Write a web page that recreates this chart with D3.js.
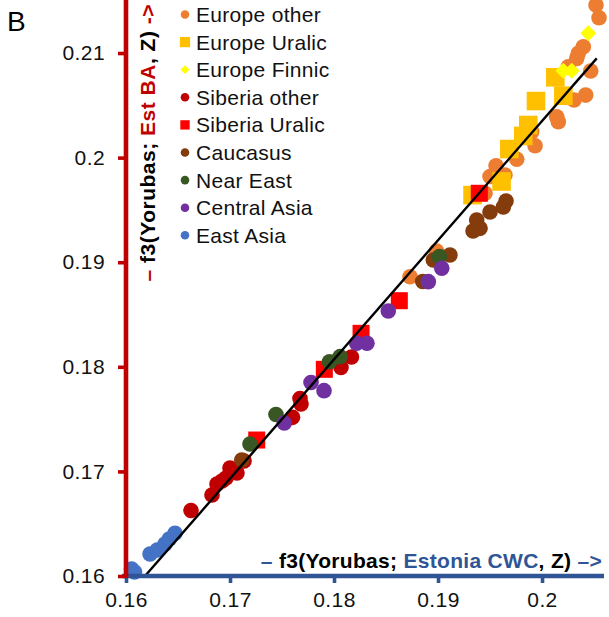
<html>
<head>
<script src="https://cdn.jsdelivr.net/npm/d3@7"></script>
<style>
  body { margin: 0; background: #fff; }
  svg { display: block; font-family: Arial, "Liberation Sans", sans-serif; }
</style>
</head>
<body>
<div id="chart-container"></div>
<script>
// series, in the order they are drawn (and listed in the legend)
const seriesNames = ["Europe other", "Europe Uralic", "Europe Finnic", "Siberia other", "Siberia Uralic",
                     "Caucasus", "Near East", "Central Asia", "East Asia"]

// x = f3(Yorubas; Estonia CWC, Z), y = f3(Yorubas; Est BA, Z)
const europeOtherX = [0.18731, 0.18986, 0.19452, 0.19500, 0.19644, 0.19558, 0.19757, 0.19933, 0.19901, 0.20141,
                      0.20157, 0.20308, 0.20420, 0.20253, 0.20468, 0.20334, 0.20349, 0.20397, 0.20519, 0.20548]
const europeOtherY = [0.18861, 0.19107, 0.19659, 0.19819, 0.19834, 0.19923, 0.19984, 0.20114, 0.20248, 0.20391,
                      0.20343, 0.20551, 0.20598, 0.20869, 0.20828, 0.20949, 0.20997, 0.21060, 0.21459, 0.21337]

const europeUralicX = [0.19332, 0.19611, 0.19686, 0.19820, 0.19868, 0.19942, 0.20128, 0.20205]
const europeUralicY = [0.19642, 0.19772, 0.20082, 0.20207, 0.20312, 0.20541, 0.20768, 0.20592]

const europeFinnicX = [0.20445, 0.20205, 0.20286]
const europeFinnicY = [0.21188, 0.20831, 0.20831]

const siberiaOtherX = [0.16625, 0.16827, 0.16875, 0.16923, 0.16962, 0.17000, 0.17067, 0.17135,
                       0.17601, 0.17673, 0.17683, 0.18067, 0.18168]
const siberiaOtherY = [0.16626, 0.16774, 0.16880, 0.16908, 0.16937, 0.17033, 0.16985, 0.17099,
                       0.17517, 0.17697, 0.17644, 0.17993, 0.18094]

const siberiaUralicX = [0.17257, 0.17907, 0.18260, 0.18628, 0.19397]
const siberiaUralicY = [0.17300, 0.17976, 0.18320, 0.18632, 0.19659]

const caucasusX = [0.17113, 0.18853, 0.18955, 0.19115, 0.19337, 0.19372, 0.19404, 0.19500, 0.19654, 0.19628]
const caucasusY = [0.17109, 0.18816, 0.19021, 0.19069, 0.19298, 0.19403, 0.19324, 0.19480, 0.19585, 0.19528]

const nearEastX = [0.17192, 0.17442, 0.17957, 0.18058, 0.19013]
const nearEastY = [0.17262, 0.17544, 0.18049, 0.18097, 0.19053]

const centralAsiaX = [0.17522, 0.17779, 0.17904, 0.18218, 0.18317, 0.18522, 0.18907, 0.19036]
const centralAsiaY = [0.17463, 0.17850, 0.17772, 0.18225, 0.18225, 0.18533, 0.18814, 0.18942]

const eastAsiaX = [0.16053, 0.16082, 0.16231, 0.16301, 0.16375, 0.16416, 0.16471]
const eastAsiaY = [0.16067, 0.16038, 0.16210, 0.16249, 0.16306, 0.16354, 0.16408]

// fitted line end points
const fitX = [0.16183, 0.20526]
const fitY = [0.16, 0.20949]

const xTicks = [0.16, 0.17, 0.18, 0.19, 0.2]
const yTicks = [0.16, 0.17, 0.18, 0.19, 0.2, 0.21]

// marker look per series
const seriesStyle = {
	"Europe other":   {color: "#ED7D31", shape: "circle"},
	"Europe Uralic":  {color: "#FFC000", shape: "bigsquare"},
	"Europe Finnic":  {color: "#FFFF00", shape: "diamond"},
	"Siberia other":  {color: "#C00000", shape: "circle"},
	"Siberia Uralic": {color: "#FF0000", shape: "square"},
	"Caucasus":       {color: "#843C0C", shape: "circle"},
	"Near East":      {color: "#385723", shape: "circle"},
	"Central Asia":   {color: "#7030A0", shape: "circle"},
	"East Asia":      {color: "#4472C4", shape: "circle"}
}

const seriesX = [europeOtherX, europeUralicX, europeFinnicX, siberiaOtherX, siberiaUralicX,
                 caucasusX, nearEastX, centralAsiaX, eastAsiaX]
const seriesY = [europeOtherY, europeUralicY, europeFinnicY, siberiaOtherY, siberiaUralicY,
                 caucasusY, nearEastY, centralAsiaY, eastAsiaY]

const width = 609
const height = 617
const redAxis = "#C00000"
const blueAxis = "#2F5597"

const xscale = d3.scaleLinear().domain([0.16, 0.20596]).range([126, 604])
const yscale = d3.scaleLinear().domain([0.16, 0.21507]).range([576, 0])

const svg = d3.select("#chart-container")
	.append("svg")
	.attr("width", width)
	.attr("height", height)

// panel letter
svg.append("text")
	.attr("x", 7)
	.attr("y", 31)
	.attr("font-size", 28)
	.attr("fill", "#000")
	.text("B")

// marker drawing
function marker(sel, shape, scale) {
	if (shape == "circle") {
		sel.append("circle").attr("r", 7.8 * scale)
	} else if (shape == "square") {
		sel.append("rect").attr("x", -8.5 * scale).attr("y", -8.5 * scale)
			.attr("width", 17 * scale).attr("height", 17 * scale)
	} else if (shape == "bigsquare") {
		sel.append("rect").attr("x", -9.3 * scale).attr("y", -9.3 * scale)
			.attr("width", 18.6 * scale).attr("height", 18.6 * scale)
	} else if (shape == "diamond") {
		const h = 8 * scale
		sel.append("path").attr("d", `M0,${-h}L${h},0L0,${h}L${-h},0Z`)
	}
}

// points
seriesNames.forEach(function(name, i) {
	const st = seriesStyle[name]
	const pts = seriesX[i].map((x, j) => ({x: x, y: seriesY[i][j]}))
	const g = svg.append("g").attr("fill", st.color)
	g.selectAll("g")
		.data(pts)
		.enter()
		.append("g")
		.attr("transform", d => `translate(${xscale(d.x)},${yscale(d.y)})`)
		.each(function() { marker(d3.select(this), st.shape, 1) })
})

// fitted line
svg.append("line")
	.attr("x1", xscale(fitX[0])).attr("y1", yscale(fitY[0]))
	.attr("x2", xscale(fitX[1])).attr("y2", yscale(fitY[1]))
	.attr("stroke", "#000")
	.attr("stroke-width", 2.4)

// x axis (blue)
const xAxis = svg.append("g")
	.attr("transform", "translate(0,576)")
	.call(d3.axisBottom(xscale).tickValues(xTicks).tickFormat(d3.format("")).tickSize(7).tickSizeOuter(0).tickPadding(9))
xAxis.select(".domain").attr("stroke", blueAxis).attr("stroke-width", 4.6).attr("d", "M122,0H604")
xAxis.selectAll(".tick line").attr("stroke", blueAxis).attr("stroke-width", 3.6)
xAxis.selectAll(".tick text").attr("font-size", 21).attr("letter-spacing", 0.4).attr("fill", "#111")
	.attr("font-family", "Arial, 'Liberation Sans', sans-serif")

// y axis (red)
const yAxis = svg.append("g")
	.attr("transform", "translate(126,0)")
	.call(d3.axisLeft(yscale).tickValues(yTicks).tickFormat(d3.format("")).tickSize(8).tickSizeOuter(0).tickPadding(13))
yAxis.select(".domain").attr("stroke", redAxis).attr("stroke-width", 4.6).attr("d", "M0,0V578")
yAxis.selectAll(".tick line").attr("stroke", redAxis).attr("stroke-width", 3.6)
yAxis.selectAll(".tick text").attr("font-size", 21).attr("letter-spacing", 0.4).attr("fill", "#111")
	.attr("font-family", "Arial, 'Liberation Sans', sans-serif")

// axis titles
const xTitle = svg.append("text")
	.attr("x", 602)
	.attr("y", 568)
	.attr("text-anchor", "end")
	.attr("font-size", 21)
	.attr("font-weight", "bold")
	.attr("letter-spacing", 0.3)
xTitle.append("tspan").attr("fill", blueAxis).text("– ")
xTitle.append("tspan").attr("fill", "#000").text("f3(Yorubas; ")
xTitle.append("tspan").attr("fill", blueAxis).text("Estonia CWC")
xTitle.append("tspan").attr("fill", "#000").text(", Z)")
xTitle.append("tspan").attr("fill", blueAxis).text(" –>")

const yTitle = svg.append("text")
	.attr("transform", "translate(155,4) rotate(-90)")
	.attr("text-anchor", "end")
	.attr("font-size", 21)
	.attr("font-weight", "bold")
	.attr("letter-spacing", 0.5)
yTitle.append("tspan").attr("fill", redAxis).text("– ")
yTitle.append("tspan").attr("fill", "#000").text("f3(Yorubas; ")
yTitle.append("tspan").attr("fill", redAxis).text("Est BA")
yTitle.append("tspan").attr("fill", "#000").text(", Z)")
yTitle.append("tspan").attr("fill", redAxis).text(" ->")

// legend
const legend = svg.append("g").attr("transform", "translate(185,14.5)")
seriesNames.forEach(function(name, i) {
	const st = seriesStyle[name]
	const row = legend.append("g").attr("transform", `translate(0,${i * 27.6})`)
	const m = row.append("g").attr("fill", st.color)
	marker(m, st.shape, 0.55)
	row.append("text")
		.attr("x", 11)
		.attr("y", 7.5)
		.attr("font-size", 21)
		.attr("letter-spacing", 0.3)
		.attr("fill", "#111")
		.text(name)
})
</script>
</body>
</html>
